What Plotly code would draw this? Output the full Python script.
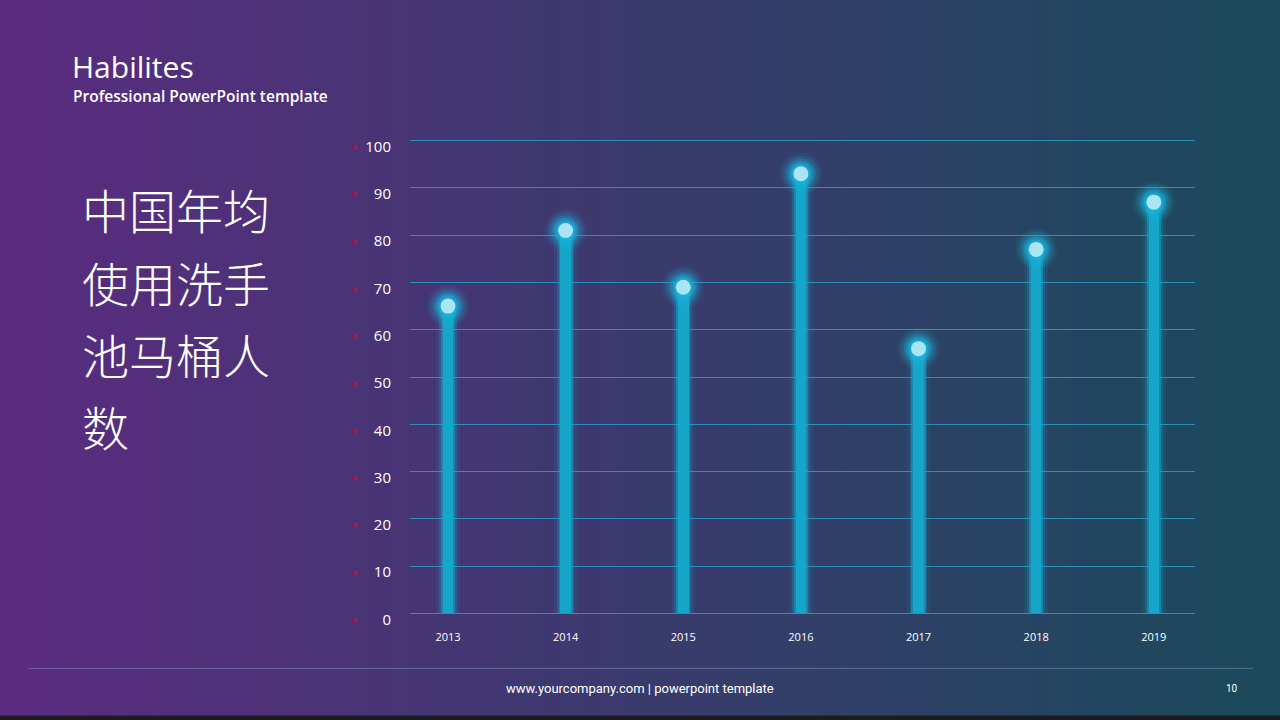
import plotly.graph_objects as go

years = ["2013", "2014", "2015", "2016", "2017", "2018", "2019"]
values = [65, 81, 69, 93, 56, 77, 87]
y_ticks = [0, 10, 20, 30, 40, 50, 60, 70, 80, 90, 100]
title_lines = ["中国年均", "使用洗手", "池马桶人", "数"]

W, H = 1280, 720
L, R = 410, 1195
Y0_PX, Y100_PX = 613, 141          # pixel rows of value 0 and 100
PXU = (Y0_PX - Y100_PX) / 100.0    # px per unit
PAD_U = 1.0                         # range padding (units) so edge gridlines show
T = Y100_PX - PAD_U * PXU
B = Y0_PX + PAD_U * PXU

def px_x(px):
    return (px - L) / (R - L)

def px_y(py):
    return (B - py) / (B - T)

xs = list(range(len(years)))

fig = go.Figure()

# glow of stems
fig.add_trace(go.Bar(x=xs, y=values, width=0.2, marker=dict(color="rgba(20,170,210,0.10)", line_width=0, cornerradius=10), hoverinfo="skip"))
fig.add_trace(go.Bar(x=xs, y=values, width=0.15, marker=dict(color="rgba(20,170,210,0.22)", line_width=0, cornerradius=8), hoverinfo="skip"))
fig.add_trace(go.Bar(x=xs, y=values, width=0.12, marker=dict(color="rgba(20,170,210,0.5)", line_width=0, cornerradius=7), hoverinfo="skip"))
fig.add_trace(go.Bar(x=xs, y=values, width=0.09, marker=dict(color="#15a6ca", line_width=0, cornerradius=5), hoverinfo="skip"))

# glow of dots
for size, alpha in [(42, 0.10), (36, 0.16), (30, 0.25), (25, 0.4), (20, 0.6)]:
    fig.add_trace(go.Scatter(x=xs, y=values, mode="markers",
                             marker=dict(size=size, color="rgba(25,180,220,%.2f)" % alpha, line_width=0),
                             hoverinfo="skip", cliponaxis=False))
fig.add_trace(go.Scatter(x=xs, y=values, mode="markers", marker=dict(size=15, color="#a9e5f5", line_width=0), hoverinfo="skip", cliponaxis=False))

# background gradient
shapes = []
c0 = (91, 43, 128)
c1 = (26, 74, 91)
n = 128
for i in range(n):
    t = i / (n - 1)
    c = tuple(round(c0[k] + (c1[k] - c0[k]) * t) for k in range(3))
    x0 = i * W / n
    x1 = (i + 1) * W / n + 1
    shapes.append(dict(type="rect", xref="paper", yref="paper",
                       x0=px_x(x0), x1=px_x(x1), y0=px_y(H), y1=px_y(0),
                       fillcolor="rgb(%d,%d,%d)" % c, line_width=0, layer="below"))
# bottom dark strip
shapes.append(dict(type="rect", xref="paper", yref="paper", x0=px_x(0), x1=px_x(W),
                   y0=px_y(H), y1=px_y(715), fillcolor="#1c1c1e", line_width=0, layer="below"))
# footer line
shapes.append(dict(type="line", xref="paper", yref="paper", x0=px_x(28), x1=px_x(1253),
                   y0=px_y(668), y1=px_y(668), line=dict(color="rgba(130,150,190,0.55)", width=1), layer="below"))

annotations = []
annotations.append(dict(text="Habilites", xref="paper", yref="paper", x=px_x(70), y=px_y(67),
                        xanchor="left", yanchor="middle", showarrow=False,
                        font=dict(family="Open Sans", size=30, color="white")))
annotations.append(dict(text="Professional PowerPoint template", xref="paper", yref="paper", x=px_x(71), y=px_y(96),
                        xanchor="left", yanchor="middle", showarrow=False,
                        font=dict(family="Open Sans", size=15.5, color="white", weight=600)))
for i, line in enumerate(title_lines):
    annotations.append(dict(text=line, xref="paper", yref="paper", x=px_x(80), y=px_y(209 + i * 72.3),
                            xanchor="left", yanchor="middle", showarrow=False,
                            font=dict(family="Noto Sans CJK SC", size=47, color="white", weight=300)))
for v in y_ticks:
    annotations.append(dict(text="◆", xref="paper", x=px_x(355), yref="y", y=v, yshift=-6,
                            xanchor="center", yanchor="middle", showarrow=False,
                            font=dict(size=7, color="#b0143e")))
annotations.append(dict(text="www.yourcompany.com | powerpoint template", xref="paper", yref="paper",
                        x=px_x(640), y=px_y(688), xanchor="center", yanchor="middle", showarrow=False,
                        font=dict(family="Roboto", size=13, color="white")))
annotations.append(dict(text="10", xref="paper", yref="paper",
                        x=px_x(1232), y=px_y(688), xanchor="center", yanchor="middle", showarrow=False,
                        font=dict(family="Roboto", size=10, color="white")))

fig.update_layout(
    width=W, height=H,
    margin=dict(l=L, r=W - R, t=T, b=H - B, pad=0),
    paper_bgcolor="#3a3a72", plot_bgcolor="rgba(0,0,0,0)",
    showlegend=False, barmode="overlay", bargap=0,
    shapes=shapes, annotations=annotations,
    xaxis=dict(range=[-0.323, 6.35], tickmode="array", tickvals=xs, ticktext=years,
               showgrid=False, zeroline=False, showline=False, ticks="",
               tickfont=dict(family="Open Sans", size=11, color="white"), ticklabelstandoff=11, fixedrange=True),
    yaxis=dict(range=[-PAD_U, 100 + PAD_U], tickmode="array", tickvals=y_ticks,
               showgrid=True, gridcolor="#2b8fb8", gridwidth=1,
               zeroline=False, showline=False, ticks="",
               tickfont=dict(family="Open Sans", size=15, color="white"),
               ticklabelstandoff=18, ticklabelshift=6, fixedrange=True),
)

fig.write_html("out.html", config={"displayModeBar": False},
               post_script="document.body.style.margin='0';document.body.style.padding='0';")
